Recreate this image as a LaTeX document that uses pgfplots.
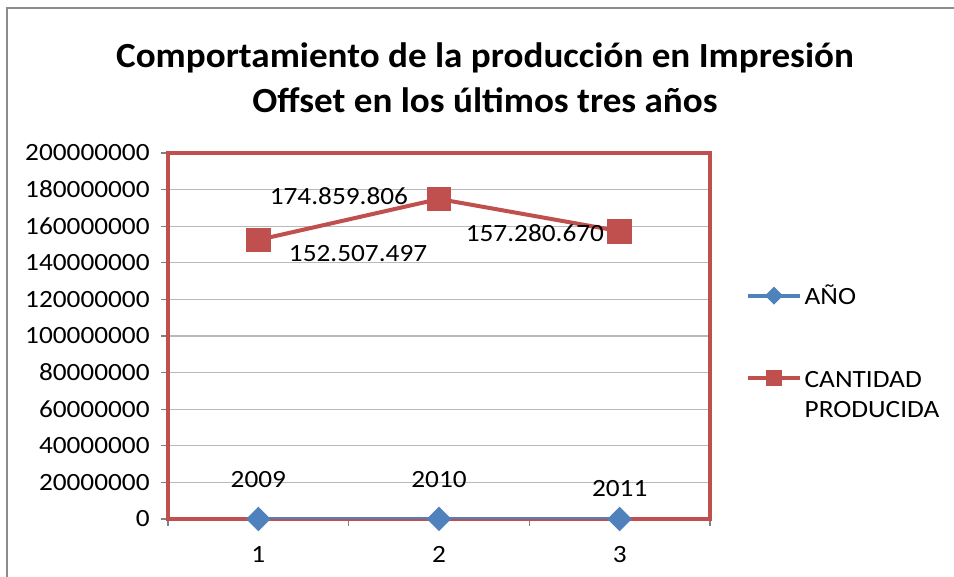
\documentclass[border=0pt]{standalone}
\usepackage{pgfplots}
\pgfplotsset{compat=1.18}
\usepackage{fontspec}
\setmainfont{Carlito}[FakeStretch=1.1]
\newfontfamily\titlefont{Carlito}[FakeStretch=1.05]
\definecolor{cBlue}{HTML}{4F81BD}
\definecolor{cRed}{HTML}{C0504D}
\definecolor{cFrame}{HTML}{8C8C8C}
\newcommand{\lblfont}{\fontsize{18.6}{22.5}\selectfont}
\begin{document}
\begin{tikzpicture}[x=0.75pt,y=0.75pt]
\path[use as bounding box] (0,0) rectangle (954,577);
\draw[cFrame, line width=1.6pt] (7,0) -- (7,569) -- (954,569);
\node[align=center, font=\titlefont\bfseries\fontsize{26.5}{34}\selectfont] at (485,499) {Comportamiento de la producción en Impresión\\Offset en los últimos tres años};
\begin{axis}[
  at={(126pt,43.5pt)}, anchor=south west,
  scale only axis, width=406.5pt, height=274.5pt,
  xmin=0.5, xmax=3.5, ymin=0, ymax=200000000,
  axis line style={cRed, line width=3pt},
  ymajorgrids, major grid style={gray!55, line width=0.8pt},
  ytick={0,20000000,40000000,60000000,80000000,100000000,120000000,140000000,160000000,180000000,200000000},
  scaled y ticks=false,
  /pgf/number format/.cd, fixed, precision=0, 1000 sep={}, assume math mode=true, /pgfplots/.cd,
  xtick={1,2,3}, minor xtick={0.5,1.5,2.5,3.5},
  major x tick style={draw=none},
  tick pos=left, tick align=outside,
  major tick length=5.25pt, minor tick length=5.25pt,
  tick style={gray, line width=0.8pt},
  ticklabel style={font=\lblfont},
  xticklabel style={yshift=-12pt},
  yticklabel style={xshift=-5pt},
  legend cell align=left,
  legend style={draw=none, fill=none, at={(1.066,0.648)}, anchor=north west, font=\lblfont, row sep=41pt, inner sep=0pt},
  legend image code/.code={\draw[mark repeat=2,mark phase=2,#1] plot coordinates {(0pt,0pt)(19.5pt,0pt)(39pt,0pt)};},
]
\addplot[cBlue, line width=3pt, mark=square*, mark size=5pt, mark options={solid, rotate=45}, legend image post style={mark size=3.3pt}] coordinates {(1,2009)(2,2010)(3,2011)};
\addlegendentry{AÑO}
\addplot[cRed, line width=3pt, mark=square*, mark size=7.8pt, mark options={solid}, legend image post style={mark size=4.6pt}] coordinates {(1,152507497)(2,174859806)(3,157280670)};
\addlegendentry{\begin{tabular}[t]{@{}l@{}}CANTIDAD\\PRODUCIDA\end{tabular}}
\node[font=\lblfont] at (axis cs:1.552,144800000) {152.507.497};
\node[font=\lblfont] at (axis cs:1.446,176500000) {174.859.806};
\node[font=\lblfont] at (axis cs:2.531,156300000) {157.280.670};
\node[font=\lblfont] at (axis cs:1,21300000) {2009};
\node[font=\lblfont] at (axis cs:2,21300000) {2010};
\node[font=\lblfont] at (axis cs:3,16900000) {2011};
\end{axis}
\end{tikzpicture}
\end{document}
